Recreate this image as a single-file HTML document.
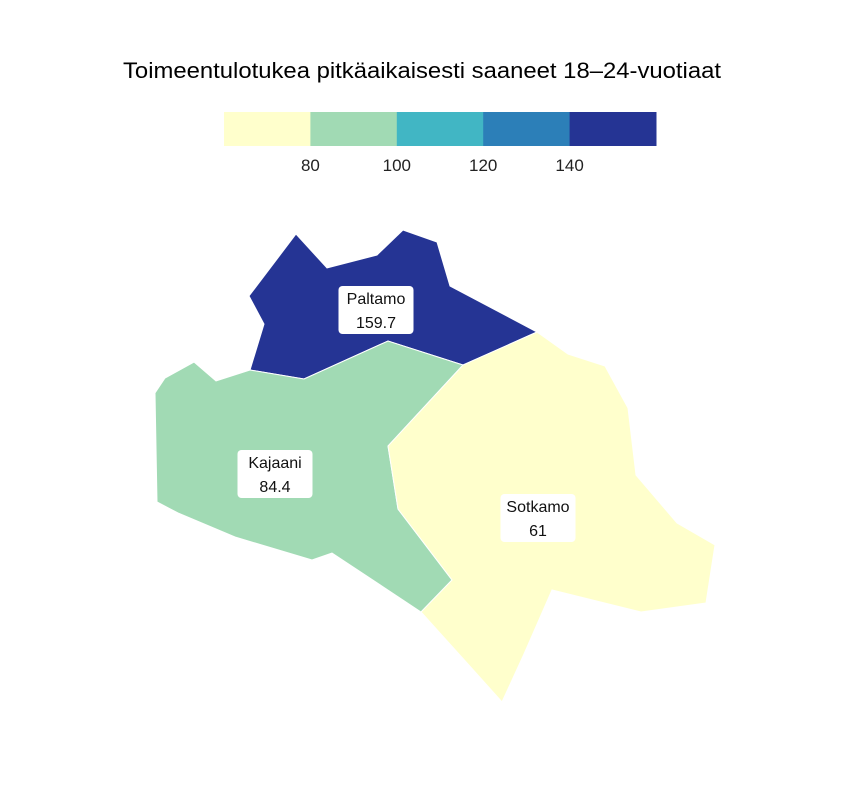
<!DOCTYPE html>
<html><head><meta charset="utf-8"><style>
body{margin:0;background:#fff;}
svg{display:block;font-family:"Liberation Sans",sans-serif;}
</style></head><body>
<svg id="c" width="864" height="792">
<text x="422" y="78" text-anchor="middle" font-size="22" textLength="598" lengthAdjust="spacingAndGlyphs" fill="#000">Toimeentulotukea pitkäaikaisesti saaneet 18–24-vuotiaat</text>
<g id="legend"></g>
<g id="map"></g>
<g id="labels"></g>
</svg>
<script>
const regionNames = ["Paltamo", "Kajaani", "Sotkamo"];
const regionValues = [159.7, 84.4, 61];
const breaks = [80, 100, 120, 140];
const tickLabels = ["80", "100", "120", "140"];
const colors = ["#ffffcc", "#a1dab4", "#41b6c4", "#2c7fb8", "#253494"];
const shapes = [
 [[296,234],[327,268],[377,255],[403,230],[437,242],[450,286],[537,332],[463,365],[388,341],[304,379],[250,370],[264,324],[249,296]],
 [[250,370],[304,379],[388,341],[463,365],[388,446],[398,509],[452,580],[421,612],[332,553],[312,560],[235,537],[178,513],[157,502],[155,393],[165,378],[194,362],[216,381]],
 [[537,332],[568,354],[605,366],[628,408],[636,475],[677,523],[715,545],[706,603],[641,612],[552,590],[524,654],[502,702],[467,663],[421,612],[452,580],[398,509],[388,446],[463,365]]
];
const labelPos = [[376,310],[275,474],[538,518]];
const NS="http://www.w3.org/2000/svg";
function mk(t,a,p){const e=document.createElementNS(NS,t);for(const k in a)e.setAttribute(k,a[k]);p.appendChild(e);return e;}
function colorFor(v){let i=0;while(i<breaks.length&&v>=breaks[i])i++;return colors[i];}
const lg=document.getElementById('legend');
const lx0=224,lw=86.4,ly=112,lh=34;
colors.forEach((c,i)=>{
 const r=mk('rect',{x:lx0+i*lw,y:ly,width:lw+0.5,height:lh,fill:c},lg);
 
 
});
tickLabels.forEach((t,i)=>{
 const e=mk('text',{x:lx0+(i+1)*lw,y:171,'text-anchor':'middle','font-size':17,fill:'#222'},lg);
 e.textContent=t;
 
 
});
const mg=document.getElementById('map'),lb=document.getElementById('labels');
regionNames.forEach((n,i)=>{
 const p=mk('polygon',{points:shapes[i].map(q=>q.join(',')).join(' '),fill:colorFor(regionValues[i]),stroke:'#fff','stroke-width':1},mg);
 
 
 const [cx,cy]=labelPos[i];
 const txt=String(regionValues[i]);
 const w=Math.max(n.length,txt.length)*9+12;
 const g=mk('g',{},lb);
 
 
 mk('rect',{x:cx-w/2,y:cy-24,width:w,height:48,rx:4,fill:'#fff'},g);
 const t1=mk('text',{x:cx,y:cy-6,'text-anchor':'middle','font-size':16,fill:'#111'},g);t1.textContent=n;
 const t2=mk('text',{x:cx,y:cy+18,'text-anchor':'middle','font-size':16,fill:'#111'},g);t2.textContent=txt;
});
</script>
</body></html>
